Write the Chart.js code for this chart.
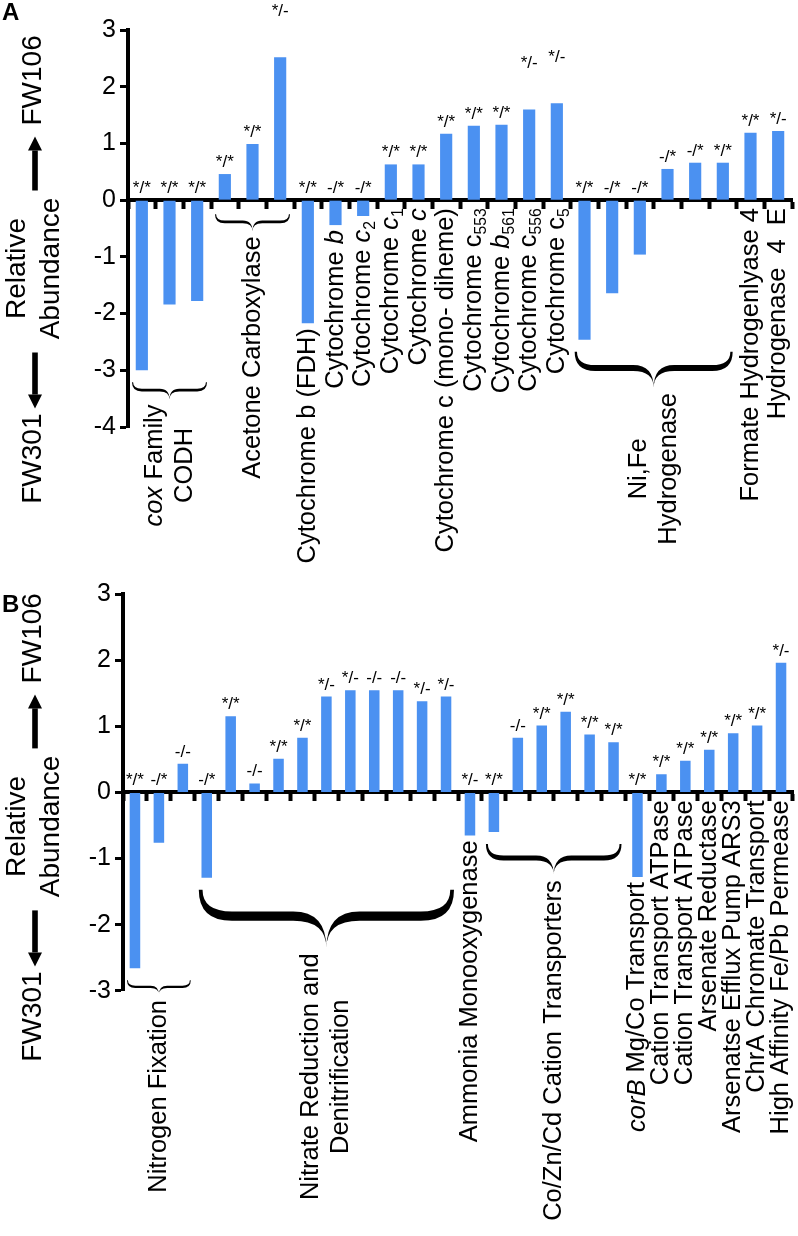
<!DOCTYPE html>
<html>
<head>
<meta charset="utf-8">
<script src="https://cdn.jsdelivr.net/npm/chart.js@4.4.1/dist/chart.umd.min.js"></script>
<style>
  html, body { margin: 0; padding: 0; background: #fff; }
  canvas { display: block; }
</style>
</head>
<body>
<canvas id="chartA" width="798" height="575"></canvas>
<canvas id="chartB" width="798" height="661"></canvas>
<script>
// ---- panel A data ----
const catsA = ['', '', '', '', '', '',
  'Cytochrome b (FDH)', 'Cytochrome <i>b</i>', 'Cytochrome <i>c</i><sub>2</sub>', 'Cytochrome <i>c</i><sub>1</sub>',
  'Cytochrome <i>c</i>', 'Cytochrome c (mono- diheme)', 'Cytochrome c<sub>553</sub>', 'Cytochrome <i>b</i><sub>561</sub>',
  'Cytochrome c<sub>556</sub>', 'Cytochrome c<sub>5</sub>',
  '', '', '', '', '', '',
  'Formate Hydrogenlyase 4', 'Hydrogenase  4  E'];
const valuesA = [-3.0, -1.84, -1.78, 0.46, 0.99, 2.52, -2.17, -0.44, -0.28, 0.63, 0.63, 1.17,
  1.31, 1.33, 1.6, 1.71, -2.46, -1.64, -0.96, 0.55, 0.66, 0.66, 1.19, 1.22];
const sigA = ['*/*', '*/*', '*/*', '*/*', '*/*', '*/-', '*/*', '-/*', '-/*', '*/*', '*/*', '*/*',
  '*/*', '*/*', '*/-', '*/-', '*/*', '-/*', '-/*', '-/*', '-/*', '*/*', '*/*', '*/-'];
const groupFromA = [0, 3, 16];
const groupToA = [2, 5, 21];
const groupTextA = [['<i>cox</i> Family', 'CODH'], ['Acetone Carboxylase'], ['Ni,Fe', 'Hydrogenase']];
const yMinA = -4, yMaxA = 3;

// ---- panel B data ----
const catsB = ['', '', '', '', '', '', '', '', '', '', '', '', '', '',
  'Ammonia Monooxygenase', '', '', '', '', '', '',
  '<i>corB</i> Mg/Co Transport', 'Cation Transport ATPase', 'Cation Transport ATPase', 'Arsenate Reductase',
  'Arsenatse Efflux Pump ARS3', 'ChrA Chromate Transport', 'High Affinity Fe/Pb Permease'];
const valuesB = [-2.66, -0.76, 0.435, -1.29, 1.15, 0.135, 0.51, 0.825, 1.45, 1.545, 1.545, 1.545,
  1.38, 1.45, -0.65, -0.6, 0.825, 1.01, 1.22, 0.875, 0.76, -1.28, 0.275, 0.48, 0.645, 0.895, 1.01, 1.96];
const sigB = ['*/*', '-/*', '-/-', '-/*', '*/*', '-/-', '*/*', '*/*', '*/-', '*/-', '-/-', '-/-',
  '*/-', '*/-', '*/-', '*/*', '-/-', '*/*', '*/*', '*/*', '*/*', '*/*', '*/*', '*/*', '*/*', '*/*', '*/*', '*/-'];
const groupFromB = [0, 3, 15];
const groupToB = [2, 13, 20];
const groupTextB = [['Nitrogen Fixation'], ['Nitrate Reduction and', 'Denitrification'], ['Co/Zn/Cd Cation Transporters']];
const yMinB = -3, yMaxB = 3;

const FONT = '"Liberation Sans", Arial, Helvetica, sans-serif';
const BAR = '#4b91f1';

// tiny markup: <i>..</i> italic, <sub>..</sub> subscript
function parseRich(s) {
  const out = [];
  const re = /<(i|sub)>(.*?)<\/\1>/g;
  let last = 0, m;
  while ((m = re.exec(s))) {
    if (m.index > last) out.push({ t: s.slice(last, m.index), k: '' });
    out.push({ t: m[2], k: m[1] });
    last = re.lastIndex;
  }
  if (last < s.length) out.push({ t: s.slice(last), k: '' });
  return out;
}
function segFont(k, size) {
  if (k === 'sub') return (size * 0.62) + 'px ' + FONT;
  return (k === 'i' ? 'italic ' : '') + size + 'px ' + FONT;
}
function richWidth(ctx, segs, size) {
  let w = 0;
  segs.forEach(sg => { ctx.font = segFont(sg.k, size); w += ctx.measureText(sg.t).width; });
  return w;
}
// rotated text reading upward; mode: 'top' = ends at y, 'bottom' = starts at y, 'center'
function vText(ctx, lines, x, y, mode, size, gap) {
  ctx.save();
  ctx.translate(x, y);
  ctx.rotate(-Math.PI / 2);
  ctx.textAlign = 'left';
  ctx.textBaseline = 'middle';
  lines.forEach((ln, i) => {
    const segs = parseRich(ln);
    const w = richWidth(ctx, segs, size);
    const ly = (i - (lines.length - 1) / 2) * gap;
    let cx = mode === 'top' ? -w : mode === 'bottom' ? 0 : -w / 2;
    segs.forEach(sg => {
      ctx.font = segFont(sg.k, size);
      ctx.fillText(sg.t, cx, sg.k === 'sub' ? ly + size * 0.3 : ly);
      cx += ctx.measureText(sg.t).width;
    });
  });
  ctx.restore();
}
function brace(ctx, x0, x1, y0, h) {
  const t = Math.max(2.2, h * 0.16), e = t * 0.4;
  const xm = (x0 + x1) / 2, ym = y0 + h * 0.45, y1 = y0 + h;
  const q = (x1 - x0) * 0.13;
  const yu = ym - t / 2, yl = ym + t / 2;
  ctx.beginPath();
  ctx.moveTo(x0 + e, y0);
  ctx.quadraticCurveTo(x0 + e, yu, x0 + q, yu);
  ctx.lineTo(xm - q, yu);
  ctx.quadraticCurveTo(xm, yu, xm, y1);
  ctx.quadraticCurveTo(xm, yu, xm + q, yu);
  ctx.lineTo(x1 - q, yu);
  ctx.quadraticCurveTo(x1 - e, yu, x1 - e, y0);
  ctx.lineTo(x1, y0);
  ctx.quadraticCurveTo(x1, yl, x1 - q, yl);
  ctx.lineTo(xm + q, yl);
  ctx.quadraticCurveTo(xm, yl, xm, y1);
  ctx.quadraticCurveTo(xm, yl, xm - q, yl);
  ctx.lineTo(x0 + q, yl);
  ctx.quadraticCurveTo(x0, yl, x0, y0);
  ctx.closePath();
  ctx.fill();
}
function arrow(ctx, x, yTail, yHead) {
  const dir = Math.sign(yHead - yTail), hl = 14, hw = 7, sw = 2.8;
  const yb = yHead - dir * hl;
  ctx.fillRect(x - sw, Math.min(yTail, yb), 2 * sw, Math.abs(yb - yTail));
  ctx.beginPath();
  ctx.moveTo(x - hw, yb);
  ctx.lineTo(x + hw, yb);
  ctx.lineTo(x, yHead);
  ctx.closePath();
  ctx.fill();
}

const panelPlugin = {
  id: 'panel',
  afterDraw(chart, args, o) {
    const ctx = chart.ctx, ca = chart.chartArea;
    const xs = chart.scales.x, ys = chart.scales.y;
    const zero = ys.getPixelForValue(0);
    const bars = chart.getDatasetMeta(0).data;
    const vals = chart.data.datasets[0].data;
    const step = xs.getPixelForValue(1) - xs.getPixelForValue(0);
    ctx.save();
    ctx.fillStyle = '#000';

    // significance marks
    ctx.font = '17px ' + FONT;
    ctx.textAlign = 'center';
    ctx.textBaseline = 'alphabetic';
    bars.forEach((b, i) => {
      const ref = vals[i] >= 0 ? Math.min(b.y, b.base) : zero;
      const lift = o.raised.includes(i) ? 34 : 0;
      ctx.fillText(o.sig[i], b.x, ref - 7 - lift);
    });

    // single category labels
    bars.forEach((b, i) => {
      if (!o.cats[i]) return;
      const bottom = Math.max(b.y, b.base);
      vText(ctx, [o.cats[i]], b.x, Math.max(zero + 8, bottom + 5), 'top', 25.5, 30);
    });

    // grouped categories with braces
    o.from.forEach((f, g) => {
      const t = o.to[g];
      const x0 = xs.getPixelForValue(f) - step / 2 + 4;
      const x1 = xs.getPixelForValue(t) + step / 2 - 4;
      let low = zero + 2;
      for (let i = f; i <= t; i++) low = Math.max(low, bars[i].y, bars[i].base);
      const y0 = low + 12, h = 0.23 * (x1 - x0);
      brace(ctx, x0, x1, y0, h);
      const lines = o.groups[g];
      const maxW = Math.max(...lines.map(l => richWidth(ctx, parseRich(l), 25.5)));
      vText(ctx, lines, (x0 + x1) / 2, y0 + h + 5 + maxW / 2, 'center', 25.5, 30);
    });

    // y axis title
    const cy = (ca.top + ca.bottom) / 2 + o.titleShift;
    vText(ctx, ['Relative', 'Abundance'], 34, cy, 'center', 28, 34);
    arrow(ctx, 35, cy - 78, cy - 132);
    vText(ctx, ['FW106'], 33, cy - 143, 'bottom', 28, 0);
    arrow(ctx, 35, cy + 84, cy + 140);
    vText(ctx, ['FW301'], 33, cy + 145, 'top', 28, 0);

    // panel letter
    ctx.font = 'bold 24px ' + FONT;
    ctx.textAlign = 'left';
    ctx.textBaseline = 'alphabetic';
    ctx.fillText(o.letter, 2, o.letterY);
    ctx.restore();
  }
};

function makeChart(id, cats, values, yMin, yMax, axisWidth, padding, panel) {
  return new Chart(document.getElementById(id), {
    type: 'bar',
    data: {
      labels: cats,
      datasets: [{ data: values, backgroundColor: BAR, borderWidth: 0, barPercentage: 0.44, categoryPercentage: 1 }]
    },
    options: {
      responsive: false,
      animation: false,
      layout: { padding: padding },
      plugins: { legend: { display: false }, tooltip: { enabled: false }, panel: panel },
      scales: {
        x: {
          type: 'category',
          position: { y: 0 },
          offset: true,
          ticks: { display: false },
          grid: { offset: true, drawOnChartArea: false, color: '#000', tickLength: 7, tickWidth: 4 },
          border: { color: '#000', width: 4 },
          afterFit: s => { s.height = 0; }
        },
        y: {
          min: yMin,
          max: yMax,
          ticks: { stepSize: 1, color: '#000', font: { size: 25, family: FONT }, padding: 4 },
          grid: { drawOnChartArea: false, color: '#000', tickLength: 8, tickWidth: 3 },
          border: { color: '#000', width: 4 },
          afterFit: s => { s.width = axisWidth; }
        }
      }
    },
    plugins: [panelPlugin]
  });
}

makeChart('chartA', catsA, valuesA, yMinA, yMaxA, 128,
  { top: 30, right: 6, bottom: 148, left: 0 },
  { cats: catsA, sig: sigA, from: groupFromA, to: groupToA, groups: groupTextA,
    raised: [5, 14, 15], titleShift: 40, letter: 'A', letterY: 20 });

makeChart('chartB', catsB, valuesB, yMinB, yMaxB, 123,
  { top: 15.6, right: 5, bottom: 245.2, left: 0 },
  { cats: catsB, sig: sigB, from: groupFromB, to: groupToB, groups: groupTextB,
    raised: [], titleShift: 34, letter: 'B', letterY: 37 });
</script>
</body>
</html>
